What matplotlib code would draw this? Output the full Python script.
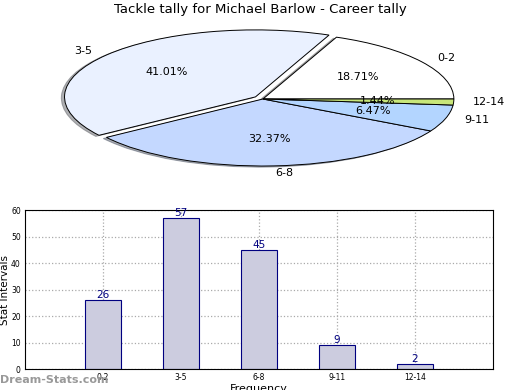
import matplotlib
matplotlib.use("Agg")
import matplotlib.pyplot as plt

categories = ["0-2", "3-5", "6-8", "9-11", "12-14"]
counts = [26, 57, 45, 9, 2]
slice_colors = ["#ffffff", "#eaf1ff", "#c4d8ff", "#b3d5ff", "#c8e67a"]
explode = [0, 0.05, 0, 0, 0]

fig = plt.figure(figsize=(5.2, 3.9), dpi=100)

# pie on top (squashed into an ellipse)
ax_pie = fig.add_axes([0.0466, 0.5314, 0.918, 0.4295])
wedges, texts, autotexts = ax_pie.pie(
    counts, labels=categories, colors=slice_colors, explode=explode,
    autopct="%1.2f%%", startangle=0,
    shadow={"ox": -0.012, "oy": -0.012, "shade": 0.6},
    wedgeprops={"edgecolor": "black", "linewidth": 0.7},
    textprops={"fontsize": 8},
)
ax_pie.set_aspect("auto")
ax_pie.set_xlim(-1.25, 1.25)
ax_pie.set_ylim(-1.25, 1.25)
fig.text(0.5, 0.975, "Tackle tally for Michael Barlow - Career tally",
         ha="center", va="center", fontsize=9.5)

# bar chart below
ax = fig.add_axes([0.048, 0.0538, 0.9, 0.4077])
pos = list(range(1, len(categories) + 1))
ax.bar(pos, counts, width=0.47, color="#ccccdf", edgecolor="#000080",
       linewidth=0.8, zorder=2)
for p, v in zip(pos, counts):
    ax.text(p, v, str(v), ha="center", va="bottom", color="#000080",
            fontsize=7.5, zorder=3)
ax.set_xlim(0, 6)
ax.set_ylim(0, 60)
ax.set_xticks(pos)
ax.set_xticklabels(categories)
ax.set_yticks(range(0, 61, 10))
ax.tick_params(labelsize=5.5, direction="in", length=0, pad=3)
ax.grid(True, linestyle=":", color="#aaaaaa", linewidth=0.9, zorder=0)
ax.set_axisbelow(True)
ax.set_xlabel("Frequency", fontsize=8, labelpad=1)
ax.set_ylabel("Stat Intervals", fontsize=7.5)
ax.yaxis.set_label_coords(-0.032, 0.5)

fig.text(0.0, 0.025, "Dream-Stats.com", color="#999999", fontsize=8,
         fontweight="bold", ha="left", va="center")

fig.savefig("out.png", dpi=100)
